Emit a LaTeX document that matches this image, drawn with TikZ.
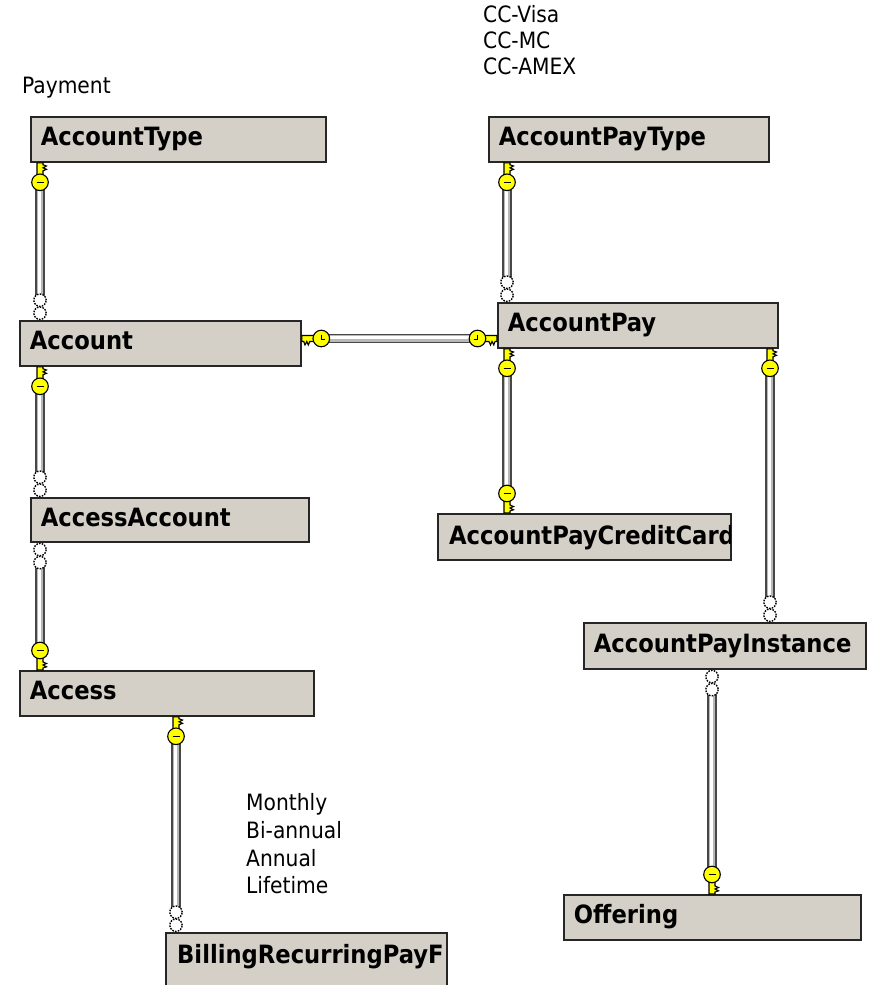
\documentclass[tikz,border=0pt]{standalone}
\usepackage{fontspec}
\setmainfont{DejaVu Sans Condensed}
\usetikzlibrary{calc}
\definecolor{boxfill}{HTML}{D4D0C8}
\definecolor{keyyellow}{HTML}{FFFF00}

\begin{document}
\begin{tikzpicture}[x=1pt,y=-1pt,
  tbl/.style={draw=black!85, line width=1.8pt, fill=boxfill, inner xsep=10pt, inner ysep=0pt,
    minimum height=45pt, text height=18pt, text depth=5pt, align=left, anchor=north west,
    font=\bfseries\fontsize{25.2}{28}\selectfont},
  tbltext/.style={inner sep=0pt, anchor=base west, font=\bfseries\fontsize{25.2}{28}\selectfont},
  note/.style={inner sep=0pt, anchor=base west, font=\fontsize{22.5}{28}\selectfont},
  rel/.style={line width=9.5pt, draw=black!72,
    postaction={draw=black!28, line width=6.5pt},
    postaction={draw=white, line width=3pt, transform canvas={shift={(-1pt,1pt)}}}},
  keybody/.style={fill=keyyellow, draw=black, line width=1.1pt},
  infbody/.style={fill=white, draw=black, line width=1.4pt, dash pattern=on 1.6pt off 1.2pt},
  pics/keyv/.style={code={
    \begin{scope}[yscale=#1]
      \filldraw[keybody] (-3,0) -- (3,0) -- (3,2) -- (6.5,3.2) -- (3,5) -- (6.5,6.5)
        -- (3,8) -- (3,12.5) -- (-3,12.5) -- cycle;
      \filldraw[keybody] (0,19.5) circle[radius=8.3];
      \draw[line width=1.5pt] (-3.5,19.5) -- (3.5,19.5);
    \end{scope}}},
  pics/keyh/.style={code={
    \begin{scope}[xscale=#1]
      \filldraw[keybody] (0,-3) -- (0,3) -- (2,3) -- (3.2,6.5) -- (5,3) -- (6.5,6.5)
        -- (8,3) -- (12.5,3) -- (12.5,-3) -- cycle;
      \filldraw[keybody] (19.5,0) circle[radius=8.3];
      \draw[line width=1.5pt] (19.5,-4) -- (19.5,1) -- (23,1);
    \end{scope}}},
  pics/infv/.style={code={
    \begin{scope}[yscale=#1]
      \filldraw[infbody] (0,6.8) circle[radius=6.2];
      \filldraw[infbody] (0,19.8) circle[radius=6.2];
    \end{scope}}}
]
\clip (0,0) rectangle (876,985);
\fill[white] (0,0) rectangle (876,985);

% tables
\node[tbl, text width=275pt] (AT)  at (30,116)  {AccountType};
\node[tbl, text width=260pt] (APT) at (488,116) {AccountPayType};
\node[tbl, text width=261pt] (Acc) at (19,320)  {Account};
\node[tbl, text width=260pt] (AP)  at (497,302) {AccountPay};
\node[tbl, text width=258pt, minimum height=44pt] (AA) at (30,497) {AccessAccount};
\node[tbl, text width=273pt, minimum height=46pt] (APCC) at (437,513) {};
\node[tbl, text width=262pt, minimum height=46pt] (API) at (583,622) {AccountPayInstance};
\node[tbl, text width=274pt] (Acs) at (19,670)  {Access};
\node[tbl, text width=277pt] (Off) at (563,894) {Offering};
\node[tbl, text width=261pt, minimum height=70pt] (BRP) at (165,932) {};

% names that run past the right edge of their table
\begin{scope}
  \clip ($(APCC.north west)+(1,1)$) rectangle ($(APCC.south east)+(-1,-1)$);
  \node[tbltext] (APCCt) at ($(APCC.north west)+(12,31)$) {AccountPayCreditCard};
\end{scope}
\begin{scope}
  \clip ($(BRP.north west)+(1,1)$) rectangle ($(BRP.south east)+(-1,-1)$);
  \node[tbltext] (BRPt) at ($(BRP.north west)+(12,31)$) {BillingRecurringPayF};
\end{scope}

% notes
\node[note] (pay) at (22,93) {Payment};
\node[note] (cc1) at (483,23) {CC-Visa};
\node[note] (cc2) at (483,48.5) {CC-MC};
\node[note] (cc3) at (483,74) {CC-AMEX};
\node[note] (bf1) at (246,810) {Monthly};
\node[note] (bf2) at (246,838) {Bi-annual};
\node[note] (bf3) at (246,866) {Annual};
\node[note] (bf4) at (246,893) {Lifetime};

% relationship end points
\coordinate (c1a) at ($(AT.south west)+(10,0)$);
\coordinate (c1b) at ($(Acc.north west)+(21,0)$);
\coordinate (c2a) at ($(Acc.north east)+(0,18.5)$);
\coordinate (c2b) at ($(AP.north west)+(0,36.5)$);
\coordinate (c3a) at ($(APT.south west)+(19,0)$);
\coordinate (c3b) at ($(AP.north west)+(10,0)$);
\coordinate (c4a) at ($(Acc.south west)+(21,0)$);
\coordinate (c4b) at ($(AA.north west)+(10,0)$);
\coordinate (c5a) at ($(AA.south west)+(10,0)$);
\coordinate (c5b) at ($(Acs.north west)+(21,0)$);
\coordinate (c6a) at ($(Acs.south west)+(157,0)$);
\coordinate (c6b) at ($(BRP.north west)+(11,0)$);
\coordinate (c7a) at ($(AP.south west)+(10,0)$);
\coordinate (c7b) at ($(APCC.north west)+(70,0)$);
\coordinate (c8a) at ($(AP.south west)+(273,0)$);
\coordinate (c8b) at ($(API.north west)+(187,0)$);
\coordinate (c9a) at ($(API.south west)+(129,0)$);
\coordinate (c9b) at ($(Off.north west)+(149,0)$);

% relationship lines
\draw[rel] ($(c1a)+(0,24)$) -- ($(c1b)+(0,-24)$);
\draw[rel] ($(c2a)+(24,0)$) -- ($(c2b)+(-24,0)$);
\draw[rel] ($(c3a)+(0,24)$) -- ($(c3b)+(0,-24)$);
\draw[rel] ($(c4a)+(0,24)$) -- ($(c4b)+(0,-24)$);
\draw[rel] ($(c5a)+(0,24)$) -- ($(c5b)+(0,-24)$);
\draw[rel] ($(c6a)+(0,24)$) -- ($(c6b)+(0,-24)$);
\draw[rel] ($(c7a)+(0,24)$) -- ($(c7b)+(0,-24)$);
\draw[rel] ($(c8a)+(0,24)$) -- ($(c8b)+(0,-24)$);
\draw[rel] ($(c9a)+(0,24)$) -- ($(c9b)+(0,-24)$);

% end symbols: key = one, chain = many
\pic at (c1a) {keyv=1};   \pic at (c1b) {infv=-1};
\pic at (c2a) {keyh=1};   \pic at (c2b) {keyh=-1};
\pic at (c3a) {keyv=1};   \pic at (c3b) {infv=-1};
\pic at (c4a) {keyv=1};   \pic at (c4b) {infv=-1};
\pic at (c5a) {infv=1};   \pic at (c5b) {keyv=-1};
\pic at (c6a) {keyv=1};   \pic at (c6b) {infv=-1};
\pic at (c7a) {keyv=1};   \pic at (c7b) {keyv=-1};
\pic at (c8a) {keyv=1};   \pic at (c8b) {infv=-1};
\pic at (c9a) {infv=1};   \pic at (c9b) {keyv=-1};
\end{tikzpicture}
\end{document}
